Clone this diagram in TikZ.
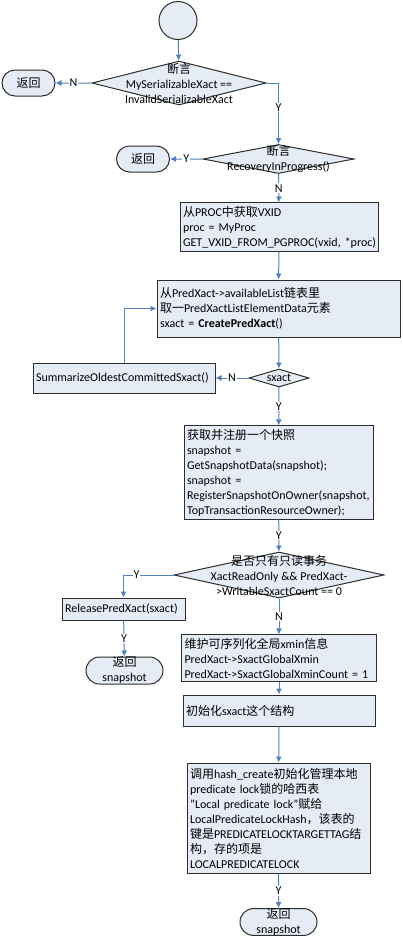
\documentclass[tikz,border=0pt]{standalone}
\usepackage{fontspec}
\setmainfont{Carlito}
\newfontfamily\cjk{Noto Sans CJK SC}
\newcommand{\zh}[1]{{\cjk #1}}
\usepackage{tikz}
\usetikzlibrary{arrows.meta, shapes.geometric, shapes.misc}
\definecolor{flowfill}{RGB}{230,236,246}
\definecolor{flowline}{RGB}{79,129,189}
\definecolor{flowdraw}{RGB}{45,45,45}

\begin{document}
\begin{tikzpicture}[
            > = {Latex[length=6pt, width=6pt]}, % arrow head style
            x = 1pt, y = -1pt, % one unit per pixel, y going down
            font = \fontsize{12}{15}\selectfont,
            line width = 1pt % line style
        ]

        \tikzstyle{box}=[
            draw = flowdraw,
            fill = flowfill,
            rectangle,
            align = left,
            inner sep = 3pt
        ]
        \tikzstyle{cond}=[
            draw = flowdraw,
            fill = flowfill,
            diamond,
            inner sep = 0pt
        ]
        \tikzstyle{term}=[
            draw = flowdraw,
            fill = flowfill,
            rounded rectangle,
            align = center,
            inner sep = 0pt
        ]
        \tikzstyle{flow}=[->, draw = flowline]
        \tikzstyle{lab}=[fill = white, inner sep = 1pt]

        \useasboundingbox (0,0) rectangle (402,940);

        \node[circle, draw = flowdraw, fill = flowfill, minimum size = 38pt] (start) at (178,20.5) {};
        \node[cond, minimum width = 174pt, minimum height = 44pt,
              label = {[align = center]center:{\zh{断言}\\MySerializableXact ==\\InvalidSerializableXact}}] (chk1) at (179,83) {};
        \node[term, minimum width = 53pt, minimum height = 26pt] (ret1) at (28.5,83) {\zh{返回}};
        \node[cond, minimum width = 151pt, minimum height = 29pt,
              label = {[align = center]center:{\zh{断言}\\RecoveryInProgress()}}] (chk2) at (278.5,159) {};
        \node[term, minimum width = 53pt, minimum height = 26pt] (ret2) at (143,159) {\zh{返回}};
        \node[box, text width = 192pt, minimum height = 46pt] (vxid) at (279,227)
            {\zh{从}PROC\zh{中获取}VXID\\proc = MyProc\\GET\_VXID\_FROM\_PGPROC(vxid,~*proc)};
        \node[box, text width = 237pt, minimum height = 57pt] (create) at (278.5,308.5)
            {\zh{从}PredXact->availableList\zh{链表里}\\\zh{取一}PredXactListElementData\zh{元素}\\sxact = \textbf{CreatePredXact}()};
        \node[cond, minimum width = 60pt, minimum height = 18pt,
              label = {center:sxact}] (chksx) at (279,378) {};
        \node[box, text width = 176pt, minimum height = 30pt] (summ) at (124,378) {SummarizeOldestCommittedSxact()};
        \node[box, text width = 183pt, minimum height = 91pt] (snap) at (278.5,472.5)
            {\zh{获取并注册一个快照}\\snapshot =\\GetSnapshotData(snapshot);\\snapshot =\\RegisterSnapshotOnOwner(snapshot,\\TopTransactionResourceOwner);};
        \node[cond, minimum width = 210pt, minimum height = 46pt,
              label = {[align = center]center:{\zh{是否只有只读事务}\\XactReadOnly \&\& PredXact-\\>WritableSxactCount == 0}}] (chk3) at (279,575) {};
        \node[box, text width = 117pt, minimum height = 22pt] (release) at (123.5,609) {ReleasePredXact(sxact)};
        \node[term, minimum width = 77pt, minimum height = 27pt] (ret3) at (124.5,670.5) {\zh{返回}\\snapshot};
        \node[box, text width = 189pt, minimum height = 45pt] (xmin) at (279,658)
            {\zh{维护可序列化全局}xmin\zh{信息}\\PredXact->SxactGlobalXmin\\PredXact->SxactGlobalXminCount = 1};
        \node[box, text width = 186pt, minimum height = 31pt] (init) at (279,710.5) {\zh{初始化}sxact\zh{这个结构}};
        \node[box, text width = 177pt, minimum height = 110pt] (hash) at (278.5,818)
            {\zh{调用}hash\_create\zh{初始化管理本地}\\predicate lock\zh{锁的哈西表}\\"Local predicate lock"\zh{赋给}\\LocalPredicateLockHash\zh{，该表的}\\\zh{键是}PREDICATELOCKTARGETTAG\zh{结}\\\zh{构，存的项是}\\LOCALPREDICATELOCK};
        \node[term, minimum width = 77pt, minimum height = 26pt] (ret4) at (278.5,922) {\zh{返回}\\snapshot};

        \path[flow] (start) edge[flow] (chk1)
            (chk1) edge[flow] node[lab] {N} (ret1)
            (chk2) edge[flow] node[lab] {Y} (ret2)
            (chk2) edge[flow] node[lab] {N} (vxid)
            (vxid) edge[flow] (create)
            (create) edge[flow] (chksx)
            (chksx) edge[flow] node[lab] {N} (summ)
            (chksx) edge[flow] node[lab] {Y} (snap)
            (snap) edge[flow] node[lab] {Y} (chk3)
            (release) edge[flow] node[lab] {Y} (ret3)
            (chk3) edge[flow] node[lab] {N} (xmin)
            (xmin) edge[flow] (init)
            (init) edge[flow] (hash)
            (hash) edge[flow] node[lab] {Y} (ret4);
        \draw[flow] (chk1.east) -| node[lab, pos = 0.7] {Y} (chk2.north);
        \draw[flow] (summ.north) |- (create.west);
        \draw[flow] (chk3.west) -| node[lab, pos = 0.37] {Y} (release.north);

  \end{tikzpicture}
\end{document}
